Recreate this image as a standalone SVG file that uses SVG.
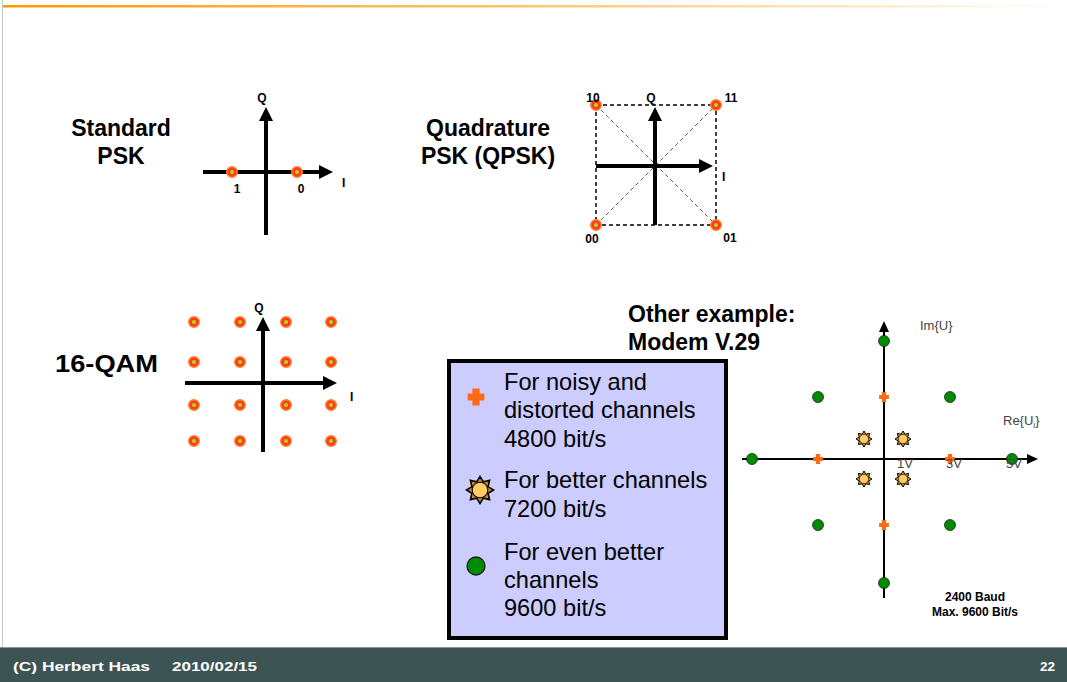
<svg xmlns="http://www.w3.org/2000/svg" xmlns:xlink="http://www.w3.org/1999/xlink" width="1067" height="682" viewBox="0 0 1067 682">
<defs>
<linearGradient id="topg" x1="0" y1="0" x2="1" y2="0">
<stop offset="0" stop-color="#ff9900"/>
<stop offset="0.5" stop-color="#fcc870"/>
<stop offset="1" stop-color="#ffffff"/>
</linearGradient>
<marker id="ahB" markerUnits="userSpaceOnUse" markerWidth="16" markerHeight="14" refX="6" refY="7" orient="auto">
<path d="M0,0 L14,7 L0,14 z" fill="#000"/>
</marker>
<marker id="ahS" markerUnits="userSpaceOnUse" markerWidth="12" markerHeight="10" refX="4" refY="5" orient="auto">
<path d="M0,0 L11,5 L0,10 z" fill="#000"/>
</marker>
<g id="pt">
<circle r="5.3" fill="#ff3d1a" stroke="#ff8030" stroke-width="1.4"/>
<circle r="2" fill="#a6e022"/>
</g>
<g id="sun">
<polygon points="10,0 6,2.49 7.07,7.07 2.49,6 0,10 -2.49,6 -7.07,7.07 -6,2.49 -10,0 -6,-2.49 -7.07,-7.07 -2.49,-6 0,-10 2.49,-6 7.07,-7.07 6,-2.49" fill="#c98f20" stroke="#000" stroke-width="1.2"/>
<circle r="5.8" fill="#ffcc66" stroke="#000" stroke-width="0.8"/>
</g>
<path id="cross" d="M-3,-7 h6 v4 h4 v6 h-4 v4 h-6 v-4 h-4 v-6 h4 z" fill="#ff6a13"/>
<circle id="grn" r="1" fill="#008c00" stroke="#1a1a1a" stroke-width="0.14"/>
</defs>
<style>
.title{font-family:"Liberation Sans",Arial,sans-serif;font-weight:bold;font-size:23px;fill:#000}
.lbl{font-family:"Liberation Sans",Arial,sans-serif;font-weight:bold;font-size:12px;fill:#000}
.leg{font-family:"Liberation Sans",Arial,sans-serif;font-size:23.6px;fill:#000}
.ax{font-family:"Liberation Sans",Arial,sans-serif;font-size:13px;fill:#444}
.foot{font-family:"Liberation Sans",Arial,sans-serif;font-weight:bold;font-size:13.5px;fill:#fff}
.thick{stroke:#000;stroke-width:4;fill:none}
.thin{stroke:#000;stroke-width:2;fill:none}
</style>

<rect width="1067" height="682" fill="#fff"/>
<rect x="2" y="5" width="1065" height="2.5" fill="url(#topg)"/>
<line x1="2.5" y1="0" x2="2.5" y2="648" stroke="#c8c8c8" stroke-width="1"/>

<g id="footer">
<line x1="0" y1="647.5" x2="1067" y2="647.5" stroke="#8a9a9a" stroke-width="1"/>
<rect x="0" y="648" width="1067" height="34" fill="#3d5454"/>
<text class="foot" x="13" y="671" textLength="137" lengthAdjust="spacingAndGlyphs">(C) Herbert Haas</text>
<text class="foot" x="172" y="671" textLength="85" lengthAdjust="spacingAndGlyphs">2010/02/15</text>
<text class="foot" x="1040" y="671">22</text>
</g>

<g id="psk">
<text class="title" x="121" y="136" text-anchor="middle">Standard</text>
<text class="title" x="121" y="164" text-anchor="middle">PSK</text>
<line class="thick" x1="203" y1="172" x2="325" y2="172" marker-end="url(#ahB)"/>
<line class="thick" x1="266" y1="235" x2="266" y2="115" marker-end="url(#ahB)"/>
<use xlink:href="#pt" x="232" y="172"/>
<use xlink:href="#pt" x="297" y="172"/>
<text class="lbl" x="262" y="102" text-anchor="middle">Q</text>
<text class="lbl" x="342" y="187">I</text>
<text class="lbl" x="237" y="193" text-anchor="middle">1</text>
<text class="lbl" x="301" y="193" text-anchor="middle">0</text>
</g>

<g id="qpsk">
<text class="title" x="488" y="136" text-anchor="middle">Quadrature</text>
<text class="title" x="488" y="164" text-anchor="middle">PSK (QPSK)</text>
<rect x="596" y="105" width="120" height="120" fill="none" stroke="#000" stroke-width="1.5" stroke-dasharray="4,3"/>
<line x1="596" y1="105" x2="716" y2="225" stroke="#333" stroke-width="0.8" stroke-dasharray="4,3"/>
<line x1="596" y1="225" x2="716" y2="105" stroke="#333" stroke-width="0.8" stroke-dasharray="4,3"/>
<line class="thick" x1="596" y1="166" x2="705" y2="166" marker-end="url(#ahB)"/>
<line class="thick" x1="655" y1="225" x2="655" y2="115" marker-end="url(#ahB)"/>
<use xlink:href="#pt" x="596" y="105"/>
<use xlink:href="#pt" x="716" y="105"/>
<use xlink:href="#pt" x="596" y="225"/>
<use xlink:href="#pt" x="716" y="225"/>
<text class="lbl" x="593" y="102" text-anchor="middle">10</text>
<text class="lbl" x="651" y="102" text-anchor="middle">Q</text>
<text class="lbl" x="731" y="102" text-anchor="middle">11</text>
<text class="lbl" x="722" y="181">I</text>
<text class="lbl" x="592" y="243" text-anchor="middle">00</text>
<text class="lbl" x="730" y="242" text-anchor="middle">01</text>
</g>

<g id="qam16">
<text class="title" x="55" y="372" textLength="103" lengthAdjust="spacingAndGlyphs">16-QAM</text>
<line class="thick" x1="185" y1="383" x2="329" y2="383" marker-end="url(#ahB)"/>
<line class="thick" x1="263" y1="452" x2="263" y2="325" marker-end="url(#ahB)"/>
<use xlink:href="#pt" x="194" y="322"/><use xlink:href="#pt" x="240" y="322"/><use xlink:href="#pt" x="286" y="322"/><use xlink:href="#pt" x="331" y="322"/>
<use xlink:href="#pt" x="194" y="362"/><use xlink:href="#pt" x="240" y="362"/><use xlink:href="#pt" x="286" y="362"/><use xlink:href="#pt" x="331" y="362"/>
<use xlink:href="#pt" x="194" y="405"/><use xlink:href="#pt" x="240" y="405"/><use xlink:href="#pt" x="286" y="405"/><use xlink:href="#pt" x="331" y="405"/>
<use xlink:href="#pt" x="194" y="441"/><use xlink:href="#pt" x="240" y="441"/><use xlink:href="#pt" x="286" y="441"/><use xlink:href="#pt" x="331" y="441"/>
<text class="lbl" x="259" y="312" text-anchor="middle">Q</text>
<text class="lbl" x="350" y="401">I</text>
</g>

<g id="v29title">
<text class="title" x="628" y="322">Other example:</text>
<text class="title" x="628" y="350">Modem V.29</text>
</g>

<g id="legend">
<rect x="449" y="361" width="277" height="277" fill="#ccccff" stroke="#000" stroke-width="4"/>
<use xlink:href="#cross" transform="translate(476,397) scale(1.2)"/>
<text class="leg" x="504" y="390">For noisy and</text>
<text class="leg" x="504" y="418">distorted channels</text>
<text class="leg" x="504" y="447">4800 bit/s</text>
<use xlink:href="#sun" transform="translate(480,490) scale(1.35)"/>
<text class="leg" x="504" y="488">For better channels</text>
<text class="leg" x="504" y="517">7200 bit/s</text>
<use xlink:href="#grn" transform="translate(476,566) scale(9)"/>
<text class="leg" x="504" y="560">For even better</text>
<text class="leg" x="504" y="588">channels</text>
<text class="leg" x="504" y="616">9600 bit/s</text>
</g>

<g id="connectors">
<line class="thin" x1="742" y1="459" x2="1031" y2="459" marker-end="url(#ahS)"/>
<line class="thin" x1="884" y1="598" x2="884" y2="328" marker-end="url(#ahS)"/>
</g>

<g id="v29">
<text class="ax" x="920" y="330">Im{U}</text>
<text class="ax" x="1003" y="425">Re{U<tspan font-size="8" dy="3">i</tspan><tspan dy="-3">}</tspan></text>
<use xlink:href="#grn" transform="translate(752,459) scale(5.5)"/>
<use xlink:href="#grn" transform="translate(1012,459) scale(5.5)"/>
<use xlink:href="#grn" transform="translate(884,341) scale(5.5)"/>
<use xlink:href="#grn" transform="translate(884,583) scale(5.5)"/>
<use xlink:href="#grn" transform="translate(818,397) scale(5.5)"/>
<use xlink:href="#grn" transform="translate(950,397) scale(5.5)"/>
<use xlink:href="#grn" transform="translate(818,525) scale(5.5)"/>
<use xlink:href="#grn" transform="translate(950,525) scale(5.5)"/>
<use xlink:href="#cross" transform="translate(818,459) scale(0.7)"/>
<use xlink:href="#cross" transform="translate(950,459) scale(0.7)"/>
<use xlink:href="#cross" transform="translate(884,397) scale(0.7)"/>
<use xlink:href="#cross" transform="translate(884,525) scale(0.7)"/>
<use xlink:href="#sun" transform="translate(864,439) scale(0.8)"/>
<use xlink:href="#sun" transform="translate(903,439) scale(0.8)"/>
<use xlink:href="#sun" transform="translate(864,479) scale(0.8)"/>
<use xlink:href="#sun" transform="translate(903,479) scale(0.8)"/>
<text class="ax" x="897" y="468">1V</text>
<text class="ax" x="946" y="468">3V</text>
<text class="ax" x="1006" y="468">5V</text>
<text class="lbl" x="975" y="601" text-anchor="middle">2400 Baud</text>
<text class="lbl" x="975" y="616" text-anchor="middle">Max. 9600 Bit/s</text>
</g>
</svg>
